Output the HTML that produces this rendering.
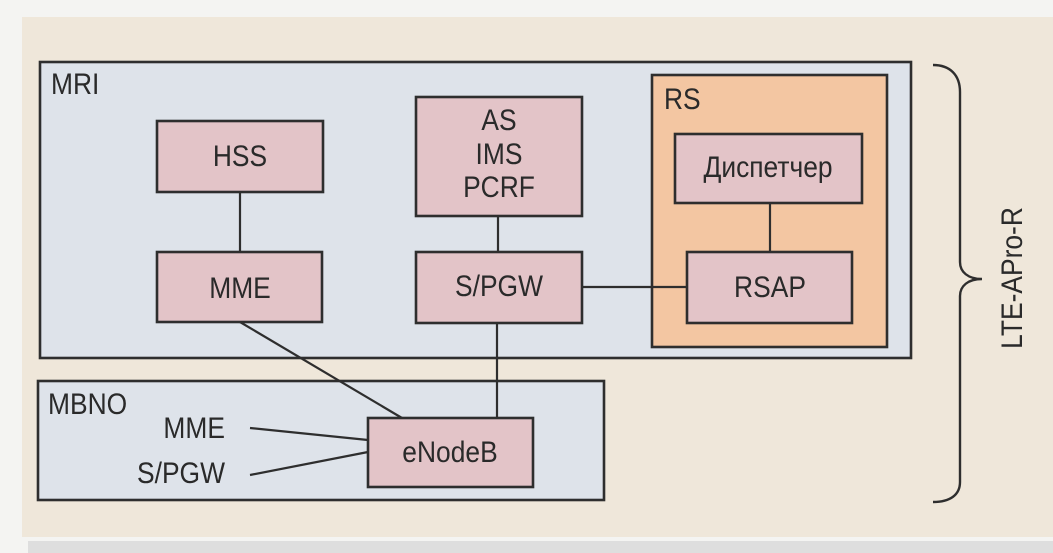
<!DOCTYPE html>
<html>
<head>
<meta charset="utf-8">
<style>
html,body{margin:0;padding:0;background:#f4f4f2;}
svg{display:block;}
text{font-family:"Liberation Sans",Arial,sans-serif;fill:#2a2a2a;}
</style>
</head>
<body>
<svg width="1053" height="553" viewBox="0 0 1053 553" xmlns="http://www.w3.org/2000/svg">
  <rect x="0" y="0" width="1053" height="553" fill="#f4f4f2"/>
  <!-- beige background -->
  <rect x="22" y="17" width="1031" height="520" fill="#efe7da"/>
  <!-- bottom gray strip -->
  <rect x="28" y="541" width="1025" height="12" fill="#dedede"/>

  <!-- MRI -->
  <rect x="40" y="62" width="871" height="296" fill="#dee3ea" stroke="#2e2e2e" stroke-width="2.6"/>
  <!-- RS -->
  <rect x="652" y="75" width="235" height="272" fill="#f3c6a2" stroke="#2e2e2e" stroke-width="2.6"/>
  <!-- MBNO -->
  <rect x="38" y="381" width="566" height="119" fill="#dee3ea" stroke="#2e2e2e" stroke-width="2.6"/>

  <!-- connectors -->
  <g stroke="#2e2e2e" stroke-width="2.2" fill="none">
    <line x1="240" y1="192" x2="240" y2="252"/>
    <line x1="498" y1="216" x2="498" y2="252"/>
    <line x1="770" y1="203" x2="770" y2="252"/>
    <line x1="582" y1="287" x2="687" y2="287"/>
    <line x1="497" y1="323" x2="497" y2="418"/>
    <line x1="240" y1="322" x2="402" y2="418"/>
    <line x1="250" y1="428" x2="368" y2="440"/>
    <line x1="250" y1="475" x2="368" y2="452"/>
  </g>

  <!-- nodes -->
  <g fill="#e3c4c8" stroke="#2e2e2e" stroke-width="2.6">
    <rect x="157" y="121" width="166" height="71"/>
    <rect x="157" y="252" width="165" height="70"/>
    <rect x="416" y="97" width="166" height="119"/>
    <rect x="416" y="252" width="166" height="71"/>
    <rect x="675" y="134" width="187" height="69"/>
    <rect x="687" y="252" width="165" height="71"/>
    <rect x="368" y="418" width="165" height="69"/>
  </g>

  <!-- brace -->
  <path d="M933,65 C950,65 960,75 960,92 L960,262 C960,272 968,279 982,279 C968,279 960,286 960,296 L960,482 C960,495 950,502 933,502" fill="none" stroke="#2e2e2e" stroke-width="2.4"/>

  <!-- labels -->
  <g font-size="30">
    <g transform="translate(51,94) scale(0.88,1)"><text x="0" y="0">MRI</text></g>
    <g transform="translate(664,109) scale(0.88,1)"><text x="0" y="0">RS</text></g>
    <g transform="translate(48,414) scale(0.88,1)"><text x="0" y="0">MBNO</text></g>

    <g transform="translate(240,166) scale(0.88,1)"><text x="0" y="0" text-anchor="middle">HSS</text></g>
    <g transform="translate(240,298) scale(0.88,1)"><text x="0" y="0" text-anchor="middle">MME</text></g>
    <g transform="translate(499,130) scale(0.88,1)"><text x="0" y="0" text-anchor="middle">AS</text></g>
    <g transform="translate(499,164) scale(0.88,1)"><text x="0" y="0" text-anchor="middle">IMS</text></g>
    <g transform="translate(499,197) scale(0.88,1)"><text x="0" y="0" text-anchor="middle">PCRF</text></g>
    <g transform="translate(499,296) scale(0.88,1)"><text x="0" y="0" text-anchor="middle">S/PGW</text></g>
    <g transform="translate(768,177) scale(0.88,1)"><text x="0" y="0" text-anchor="middle">Диспетчер</text></g>
    <g transform="translate(770,297) scale(0.88,1)"><text x="0" y="0" text-anchor="middle">RSAP</text></g>
    <g transform="translate(450,462) scale(0.88,1)"><text x="0" y="0" text-anchor="middle">eNodeB</text></g>

    <g transform="translate(225,438) scale(0.88,1)"><text x="0" y="0" text-anchor="end">MME</text></g>
    <g transform="translate(225,483) scale(0.88,1)"><text x="0" y="0" text-anchor="end">S/PGW</text></g>

    <g transform="translate(1022,278) rotate(-90) scale(0.88,1)"><text x="0" y="0" text-anchor="middle">LTE-APro-R</text></g>
  </g>
</svg>
</body>
</html>
